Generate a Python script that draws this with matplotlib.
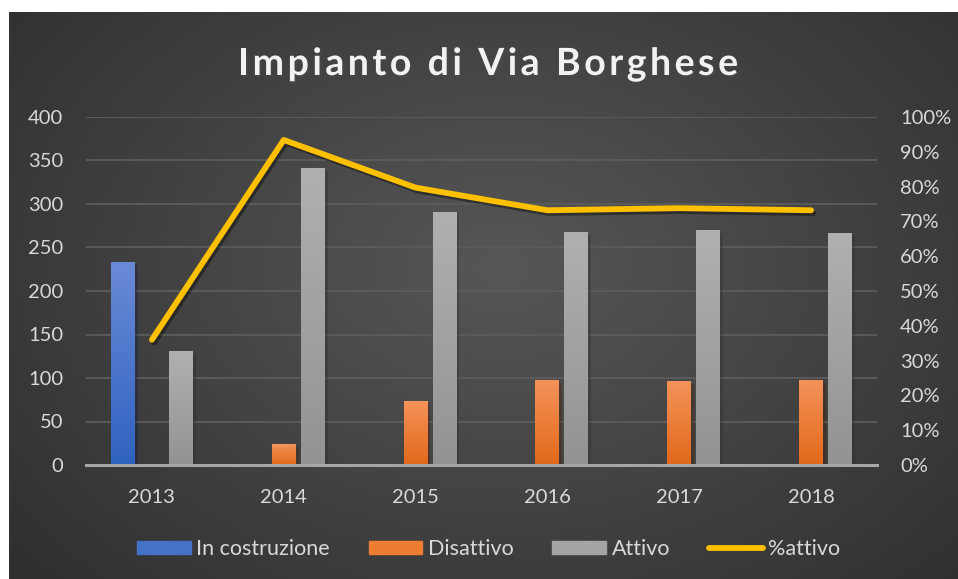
import numpy as np
import matplotlib
matplotlib.use("Agg")
from matplotlib import pyplot as plt
from matplotlib.patches import Patch
from matplotlib.lines import Line2D
import matplotlib.patheffects as pe

# data
years = ['2013', '2014', '2015', '2016', '2017', '2018']
in_costruzione = [233, 0, 0, 0, 0, 0]
disattivo = [0, 24, 74, 98, 96, 98]
attivo = [131, 341, 291, 268, 270, 267]
pct_attivo = [0.36, 0.934, 0.797, 0.732, 0.738, 0.732]

title = 'Impianto di Via Borghese'
txt = '#d9d9d9'
plt.rcParams['font.family'] = ['Lato', 'DejaVu Sans']

fig = plt.figure(figsize=(9.58, 5.79), dpi=100)
fig.patch.set_facecolor('white')

# dark radial background
bg = fig.add_axes([9/958, 0, 1 - 9/958, 1 - 12/579])
bg.set_axis_off()
yy, xx = np.mgrid[0:1:300j, 0:1:500j]
r = np.sqrt(((xx - 0.52) / 0.75) ** 2 + ((yy - 0.45) / 0.9) ** 2)
shade = np.clip(0.34 - 0.17 * r, 0.15, 0.34)
bg.imshow(np.dstack([shade] * 3), aspect='auto', extent=[0, 1, 0, 1])
bg.set_xlim(0, 1)
bg.set_ylim(0, 1)

ax = fig.add_axes([86/958, 1 - 465/579, (877 - 86)/958, (465 - 117)/579])
ax.patch.set_alpha(0)
ax2 = ax.twinx()

x = np.arange(len(years))
w = 0.182
off = 0.22


def grad_bars(xs, vals, top, bottom):
    cmap = matplotlib.colors.LinearSegmentedColormap.from_list('g', [bottom, top])
    g = np.linspace(0, 1, 100).reshape(-1, 1)
    for xi, v in zip(xs, vals):
        if v <= 0:
            continue
        b = ax.bar(xi, v, w, color=bottom, zorder=3,
                   path_effects=[pe.SimplePatchShadow(offset=(2, -2), alpha=0.35), pe.Normal()])[0]
        im = ax.imshow(g, cmap=cmap, aspect='auto', origin='lower',
                       extent=[xi - w/2, xi + w/2, 0, v], zorder=3.5)
        im.set_clip_path(b)


grad_bars(x - off, in_costruzione, '#6a8ad6', '#2f62c0')
grad_bars(x, disattivo, '#f4935a', '#e2681a')
grad_bars(x + off, attivo, '#b0b0b0', '#939393')

ax.set_xlim(-0.5, len(years) - 0.5)
ax.set_ylim(0, 400)
ax.set_yticks(range(0, 401, 50))
ax.set_xticks(x)
ax.set_xticklabels(years)
ax.grid(axis='y', color='#5c5c5c', lw=1.3, zorder=0)
ax.set_axisbelow(True)
for s in ['top', 'left', 'right']:
    ax.spines[s].set_visible(False)
ax.spines['bottom'].set_color('#a6a6a6')
ax.spines['bottom'].set_linewidth(2.2)
ax.spines['bottom'].set_zorder(4)
ax.tick_params(length=0, colors=txt, labelsize=14.5)
ax.tick_params(axis='y', pad=16.5)
ax.tick_params(axis='x', pad=17)

ax2.plot(x, pct_attivo, color='#FFC000', lw=4.2, solid_capstyle='round',
         solid_joinstyle='round', zorder=5,
         path_effects=[pe.SimpleLineShadow(offset=(1.5, -2), alpha=0.4), pe.Normal()])
ax2.set_ylim(0, 1)
ax2.set_yticks(np.arange(0, 1.01, 0.1))
ax2.set_yticklabels([f'{int(round(v*100))}%' for v in np.arange(0, 1.01, 0.1)])
ax2.tick_params(length=0, colors=txt, labelsize=14.5, pad=16.5)
for s in ax2.spines.values():
    s.set_visible(False)

# title with letter spacing, drawn one character at a time
renderer = fig.canvas.get_renderer()
tkw = dict(color='#f2f2f2', fontsize=27, fontweight='bold', va='baseline',
           path_effects=[pe.withSimplePatchShadow(offset=(1.5, -1.5), alpha=0.6)])
chars = []
for ch in title:
    t = fig.text(0, 0, ch if ch != ' ' else 'i', **tkw)
    chars.append((ch, t.get_window_extent(renderer).width))
    t.remove()
x0, x1 = 238, 738
spacing = (x1 - x0 - sum(cw for _, cw in chars)) / (len(chars) - 1)
cx = x0
for ch, cw in chars:
    if ch != ' ':
        fig.text(cx / 958, 1 - 75/579, ch, **tkw)
    cx += cw + spacing

handles = [Patch(color='#4472c4'), Patch(color='#ed7d31'), Patch(color='#a5a5a5'),
           Line2D([], [], color='#FFC000', lw=4.2, solid_capstyle='round')]
leg = fig.legend(handles, ['In costruzione', 'Disattivo', 'Attivo', '%attivo'],
                 loc='center', bbox_to_anchor=(0.51, 1 - 549/579), ncol=4, frameon=False,
                 fontsize=15.5, handlelength=2.5, handleheight=0.55, handletextpad=0.25,
                 columnspacing=1.8)
for t in leg.get_texts():
    t.set_color(txt)

plt.savefig('out.png', dpi=100)
print("Saved to out.png")
